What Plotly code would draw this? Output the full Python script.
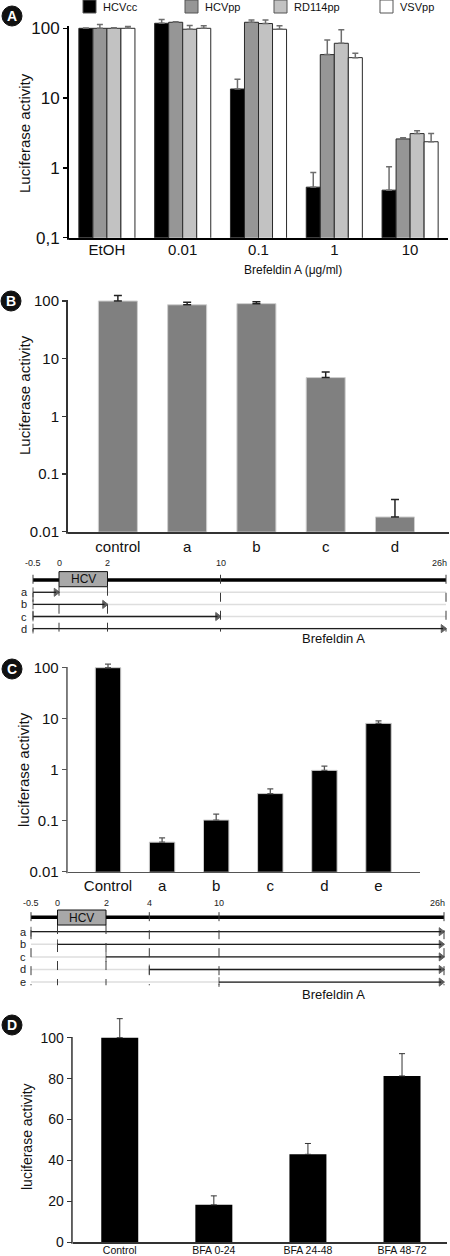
import plotly.graph_objects as go
import numpy as np

W, H = 450, 1256
FONT = "Liberation Sans, Arial, sans-serif"

# ---------------- data ----------------
# Panel A
a_categories = ["EtOH", "0.01", "0.1", "1", "10"]
a_series = ["HCVcc", "HCVpp", "RD114pp", "VSVpp"]
a_hcvcc = [100, 118, 13.5, 0.53, 0.48]
a_hcvcc_err = [1, 16, 5.2, 0.33, 0.56]
a_hcvpp = [100, 122, 122, 42, 2.6]
a_hcvpp_err = [13, 2, 9, 26, 0.1]
a_rd114 = [100, 97, 117, 61, 3.1]
a_rd114_err = [2, 13, 14, 34, 0.3]
a_vsv = [100, 100, 97, 38, 2.37]
a_vsv_err = [6, 9, 12, 6, 0.73]
a_tickvals = [0.1, 1, 10, 100]
a_ticktext = ["0,1", "1", "10", "100"]
a_xtitle = "Brefeldin A (\u03bcg/ml)"
a_ytitle = "Luciferase activity"

# Panel B
b_categories = ["control", "a", "b", "c", "d"]
b_values = [100, 86, 90, 4.7, 0.018]
b_err = [25, 9, 7, 1.2, 0.018]
b_tickvals = [0.01, 0.1, 1, 10, 100]
b_ticktext = ["0.01", "0.1", "1", "10", "100"]
b_ytitle = "Luciferase activity"

# Timeline B
tlb_ticks = [-0.5, 0, 2, 10, 26]
tlb_rows = ["a", "b", "c", "d"]
tlb_start = [-0.5, -0.5, -0.5, -0.5]
tlb_end = [0, 2, 10, 26]

# Panel C
c_categories = ["Control", "a", "b", "c", "d", "e"]
c_values = [100, 0.038, 0.103, 0.34, 0.97, 8.1]
c_err = [17, 0.008, 0.032, 0.08, 0.21, 1.0]
c_tickvals = [0.01, 0.1, 1, 10, 100]
c_ticktext = ["0.01", "0.1", "1", "10", "100"]
c_ytitle = "luciferase activity"

# Timeline C
tlc_ticks = [-0.5, 0, 2, 4, 10, 26]
tlc_rows = ["a", "b", "c", "d", "e"]
tlc_start = [-0.5, 0, 2, 4, 10]
tlc_end = [26, 26, 26, 26, 26]

hcv_window = [0, 2]
drug_label = "Brefeldin A"

# Panel D
d_categories = ["Control", "BFA 0-24", "BFA 24-48", "BFA 48-72"]
d_values = [100, 18.3, 43, 81.3]
d_err = [9.3, 4.4, 5.3, 10.9]
d_tickvals = [0, 20, 40, 60, 80, 100]
d_ytitle = "luciferase activity"

# ---------------- layout helpers ----------------
def px(x):
    return x / W

def py(y):
    return 1 - y / H

fig = go.Figure()
shapes = []
annotations = []

# ---------- Panel A ----------
a_colors = ["#000000", "#969696", "#c2c2c2", "#ffffff"]
a_vals = [a_hcvcc, a_hcvpp, a_rd114, a_vsv]
a_errs = [a_hcvcc_err, a_hcvpp_err, a_rd114_err, a_vsv_err]
bw = 0.185
for i, (name, vals, errs, col) in enumerate(zip(a_series, a_vals, a_errs, a_colors)):
    fig.add_trace(go.Bar(
        x=a_categories, y=vals, name=name, xaxis="x", yaxis="y",
        width=bw, offset=-2 * bw + i * bw,
        marker=dict(color=col, line=dict(color="#2a2a2a", width=1)),
        error_y=dict(type="data", symmetric=False, array=errs,
                     arrayminus=[0] * len(errs), color="#6e6e6e",
                     thickness=1.5, width=3),
        cliponaxis=False, showlegend=False,
    ))

# ---------- Panel B ----------
fig.add_trace(go.Bar(
    x=b_categories, y=b_values, xaxis="x2", yaxis="y2", width=0.563,
    marker=dict(color="#808080", line=dict(color="#cfcfcf", width=1)),
    error_y=dict(type="data", symmetric=False, array=b_err,
                 arrayminus=[0] * len(b_err), color="#222222",
                 thickness=1.5, width=4),
    cliponaxis=False, showlegend=False,
))

# ---------- Panel C ----------
fig.add_trace(go.Bar(
    x=c_categories, y=c_values, xaxis="x3", yaxis="y3", width=0.47,
    marker=dict(color="#000000", line=dict(color="#cccccc", width=1)),
    error_y=dict(type="data", symmetric=False, array=c_err,
                 arrayminus=[0] * len(c_err), color="#555555",
                 thickness=1.3, width=3),
    cliponaxis=False, showlegend=False,
))

# ---------- Panel D ----------
fig.add_trace(go.Bar(
    x=d_categories, y=d_values, xaxis="x4", yaxis="y4", width=0.393,
    marker=dict(color="#000000", line=dict(color="#000000", width=0)),
    error_y=dict(type="data", symmetric=False, array=d_err,
                 arrayminus=[0] * len(d_err), color="#333333",
                 thickness=1, width=3),
    cliponaxis=False, showlegend=False,
))

# ---------- Timelines ----------
def draw_timeline(xa, ya, ticks, anchors_px, rows, starts, ends, label_x,
                  main_r, box_r, tick_r, drug_r, dash_top_r):
    xref, yref = xa, ya
    def warp(h):
        return float(np.interp(h, ticks, anchors_px))
    x0, x1 = warp(ticks[0]), warp(ticks[-1])
    nrows = len(rows)
    for r in range(nrows):
        shapes.append(dict(type="line", xref=xref, yref=yref, x0=x0, x1=x1,
                           y0=r, y1=r, line=dict(color="#dedede", width=1.5),
                           layer="below"))
    for t in ticks:
        top = box_r[1] if hcv_window[0] <= t <= hcv_window[1] else dash_top_r
        shapes.append(dict(type="line", xref=xref, yref=yref, x0=warp(t), x1=warp(t),
                           y0=top, y1=nrows - 1 + 0.25,
                           line=dict(color="#3a3a3a", width=1, dash="dash")))
    fig.add_trace(go.Scatter(x=[x0, x1], y=[main_r, main_r], mode="lines",
                             xaxis=xa, yaxis=ya, cliponaxis=False,
                             line=dict(color="#000000", width=3.5),
                             showlegend=False, hoverinfo="skip"))
    shapes.append(dict(type="rect", xref=xref, yref=yref,
                       x0=warp(hcv_window[0]), x1=warp(hcv_window[1]),
                       y0=box_r[0], y1=box_r[1], fillcolor="#a8a8a8",
                       line=dict(color="#111111", width=1)))
    annotations.append(dict(x=(warp(hcv_window[0]) + warp(hcv_window[1])) / 2,
                            y=(box_r[0] + box_r[1]) / 2, xref=xref, yref=yref,
                            text="HCV", showarrow=False,
                            xanchor="center", yanchor="middle",
                            font=dict(size=12, color="#111111", family=FONT)))
    for k, t in enumerate(ticks):
        last = k == len(ticks) - 1
        txt = ("%g" % t) + ("h" if last else "")
        annotations.append(dict(x=warp(t) + (3 if last else 0), y=tick_r,
                                xref=xref, yref=yref, text=txt, showarrow=False,
                                xanchor="right" if last else "center",
                                yanchor="middle",
                                font=dict(size=9, color="#222222", family=FONT)))
    for r, (s, e, lab) in enumerate(zip(starts, ends, rows)):
        fig.add_trace(go.Scatter(
            x=[warp(s), warp(e) - 3], y=[r, r], mode="lines+markers",
            xaxis=xa, yaxis=ya, cliponaxis=False,
            line=dict(color="#1e1e1e", width=1.3),
            marker=dict(symbol=["line-ns", "triangle-right"], size=[7, 7],
                        color="#1e1e1e",
                        line=dict(color="#1e1e1e", width=1)),
            showlegend=False, hoverinfo="skip"))
        annotations.append(dict(x=label_x, y=r, xref=xref, yref=yref, text=lab,
                                showarrow=False, xanchor="center", yanchor="middle",
                                font=dict(size=11, color="#222222", family=FONT)))
    annotations.append(dict(x=333, y=drug_r, xref=xref, yref=yref, text=drug_label,
                            showarrow=False, xanchor="center", yanchor="middle",
                            font=dict(size=13, color="#111111", family=FONT)))

tb_top, tb_bot = 552, 652
tb_r0, tb_dr = 592.3, 12.1
draw_timeline("x5", "y5", tlb_ticks, [33, 59, 107.5, 220.5, 446],
              tlb_rows, tlb_start, tlb_end, 24,
              main_r=-1.02, box_r=(-1.71, -0.46), tick_r=-2.45, drug_r=3.85,
              dash_top_r=-1.45)
tc_top, tc_bot = 892, 1005
tc_r0, tc_dr = 931.7, 12.6
draw_timeline("x6", "y6", tlc_ticks, [31, 57.5, 106, 149.3, 219, 444],
              tlc_rows, tlc_start, tlc_end, 23,
              main_r=-1.14, box_r=(-1.72, -0.53), tick_r=-2.3, drug_r=5.02,
              dash_top_r=-1.55)

# ---------- Legend A ----------
a_legend_x = [83, 185, 274, 380]
for name, col, lx in zip(a_series, a_colors, a_legend_x):
    shapes.append(dict(type="rect", xref="paper", yref="paper",
                       x0=px(lx), x1=px(lx + 13), y0=py(13), y1=py(0),
                       fillcolor=col, line=dict(color="#555555", width=1)))
    annotations.append(dict(x=px(lx + 18), y=py(6.5), xref="paper", yref="paper",
                            text=name, showarrow=False, xanchor="left",
                            yanchor="middle",
                            font=dict(size=11, color="#111111", family=FONT)))

# ---------- Panel labels ----------
for lab, (cx, cy) in zip(["A", "B", "C", "D"],
                         [(12, 16), (11, 301), (12, 669), (12, 1025)]):
    shapes.append(dict(type="circle", xref="paper", yref="paper",
                       x0=px(cx - 10), x1=px(cx + 10), y0=py(cy + 10), y1=py(cy - 10),
                       fillcolor="#111111", line=dict(color="#111111", width=1)))
    annotations.append(dict(x=px(cx), y=py(cy), xref="paper", yref="paper",
                            text="<b>%s</b>" % lab, showarrow=False,
                            xanchor="center", yanchor="middle",
                            font=dict(size=14, color="#ffffff", family=FONT)))

# ---------- Axis titles ----------
for txt, (tx, ty), sz in [(a_ytitle, (24, 133), 15), (b_ytitle, (24, 395), 15),
                          (c_ytitle, (23, 770), 15), (d_ytitle, (27, 1137), 14)]:
    annotations.append(dict(x=px(tx), y=py(ty), xref="paper", yref="paper",
                            text=txt, showarrow=False, textangle=-90,
                            xanchor="center", yanchor="middle",
                            font=dict(size=sz, color="#111111", family=FONT)))
annotations.append(dict(x=px(293), y=py(270), xref="paper", yref="paper",
                        text=a_xtitle, showarrow=False,
                        xanchor="center", yanchor="middle",
                        font=dict(size=12, color="#111111", family=FONT)))

def xax(dom, rng, fs, color="#000", lw=2, standoff=None):
    d = dict(domain=[px(dom[0]), px(dom[1])], range=rng, type="category",
             showline=True, linecolor=color, linewidth=lw, ticks="",
             showgrid=False, zeroline=False, fixedrange=True, automargin=False,
             tickfont=dict(size=fs, color="#111111", family=FONT))
    if standoff is not None:
        d["ticklabelstandoff"] = standoff
    return d

def yax(xleft, top_px, line_top_px, bottom_px, rng, tv, tt, fs, typ="log",
        color="#000", lw=2, anchor="x"):
    # domain extends above the axis line so that error caps stay visible;
    # the visible axis line is drawn as a shape down to the baseline
    shapes.append(dict(type="line", xref="paper", yref="paper",
                       x0=px(xleft - lw / 2), x1=px(xleft - lw / 2),
                       y0=py(bottom_px + lw), y1=py(line_top_px),
                       line=dict(color=color, width=lw)))
    return dict(domain=[py(bottom_px), py(top_px)], range=rng, type=typ,
                tickvals=tv, ticktext=tt, showline=False,
                ticks="outside", ticklen=5, tickwidth=1.5,
                tickcolor=color, showgrid=False, zeroline=False, fixedrange=True,
                automargin=False,
                tickfont=dict(size=fs, color="#111111", family=FONT), anchor=anchor)

hidden = dict(visible=False, fixedrange=True, showgrid=False, zeroline=False,
              automargin=False)

ya = yax(69, 17, 26, 237.7, [-1, -1 + (237.7 - 17) / 69.8], a_tickvals, a_ticktext,
         17, anchor="x")
yb = yax(68, 288, 300, 531.7, [-2, 2 + 13 / 57.675], b_tickvals, b_ticktext, 15,
         color="#333", anchor="x2")
yc = yax(67.7, 658, 667, 871.7, [-2, 2 + 9.7 / 51], c_tickvals, c_ticktext, 15,
         color="#555", lw=1.5, anchor="x3")
yd = yax(72.7, 1012, 1037, 1242.3, [0, 100 + 25.7 / 2.046], d_tickvals,
         [str(v) for v in d_tickvals], 14, typ="linear", color="#333", lw=1.5,
         anchor="x4")

fig.update_layout(
    width=W, height=H, margin=dict(l=0, r=0, t=0, b=0, autoexpand=False),
    paper_bgcolor="white", plot_bgcolor="rgba(0,0,0,0)",
    barmode="overlay", showlegend=False, hovermode=False,
    font=dict(family=FONT, color="#111111"),
    xaxis=dict(xax((69, 448), [-0.5, 4.5], 15, standoff=-3), anchor="y"),
    yaxis=ya,
    xaxis2=dict(xax((68, 449), [-0.72, 4.78], 15, "#333"), anchor="y2"),
    yaxis2=yb,
    xaxis3=dict(xax((67.7, 420), [-0.745, 5.767], 15, "#555", 1.5), anchor="y3"),
    yaxis3=yc,
    xaxis4=dict(xax((72.7, 447), [-0.5, 3.478], 10.5, "#333", 1.5, standoff=-2),
                anchor="y4"),
    yaxis4=yd,
    xaxis5=dict(hidden, domain=[0, 1], range=[0, W], anchor="y5"),
    yaxis5=dict(hidden, domain=[py(tb_bot), py(tb_top)],
                range=[(tb_bot - tb_r0) / tb_dr, (tb_top - tb_r0) / tb_dr], anchor="x5"),
    xaxis6=dict(hidden, domain=[0, 1], range=[0, W], anchor="y6"),
    yaxis6=dict(hidden, domain=[py(tc_bot), py(tc_top)],
                range=[(tc_bot - tc_r0) / tc_dr, (tc_top - tc_r0) / tc_dr], anchor="x6"),
    shapes=shapes, annotations=annotations,
)

fig.write_html(
    "out.html",
    config={"displayModeBar": False, "staticPlot": True},
    post_script="document.body.style.margin='0';document.body.style.overflow='hidden';",
)
